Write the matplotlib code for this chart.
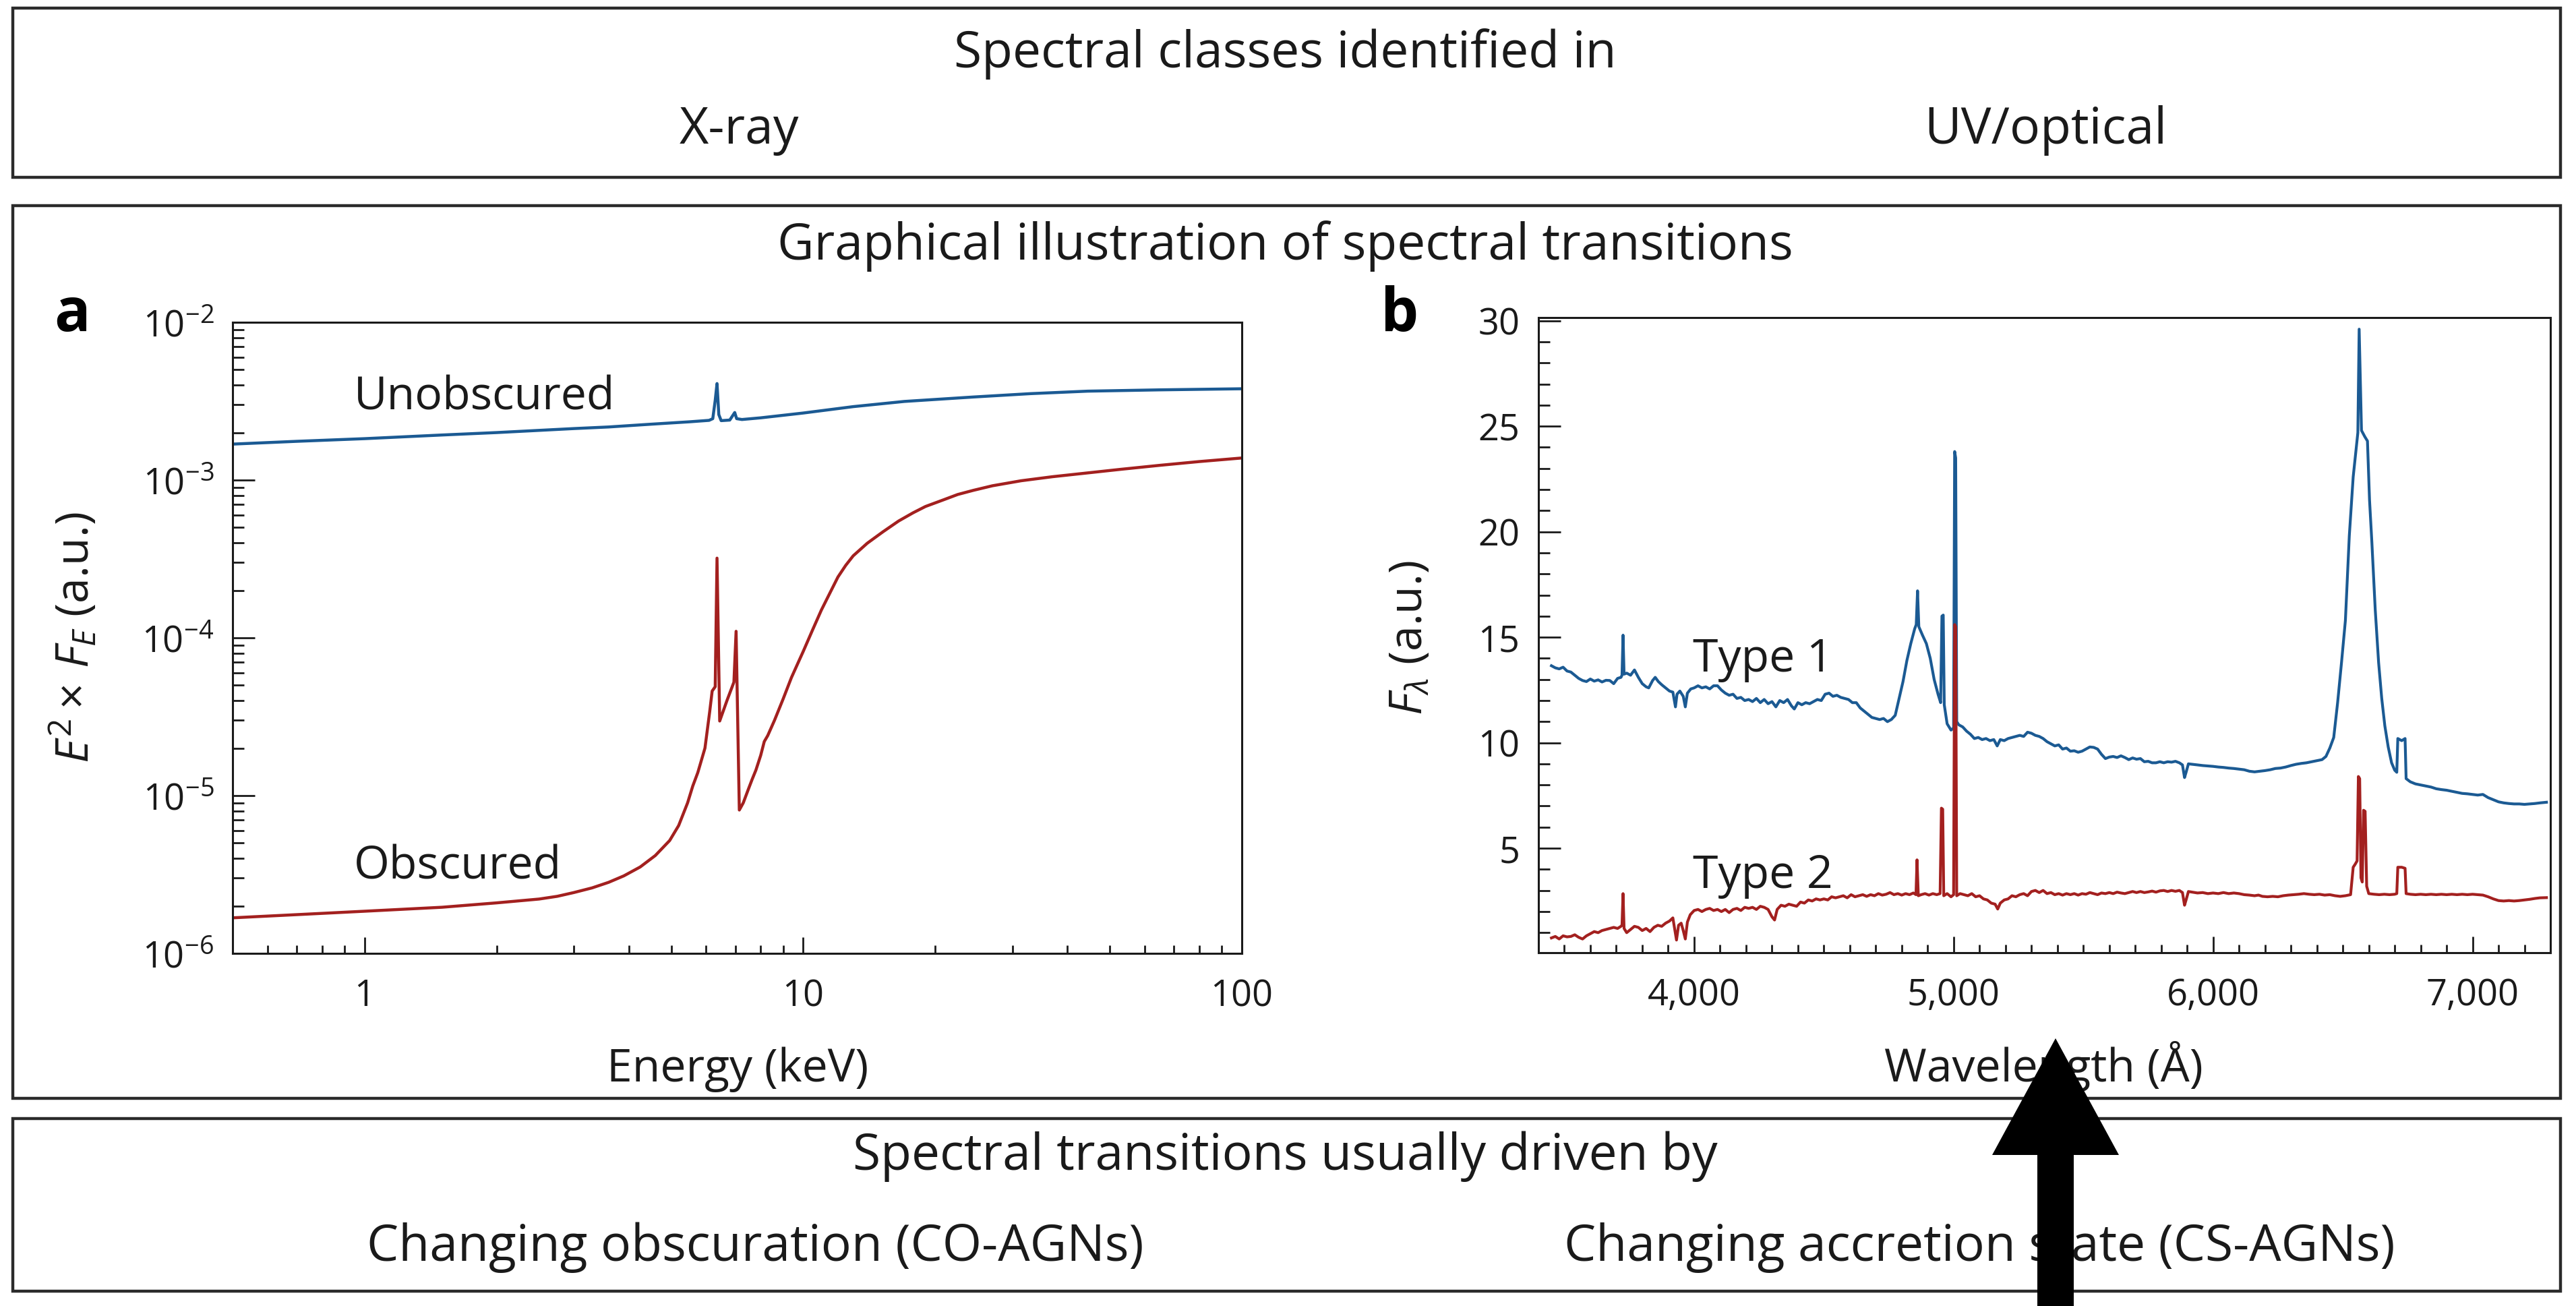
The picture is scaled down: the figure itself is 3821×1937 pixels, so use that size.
import matplotlib
matplotlib.use("Agg")
import matplotlib.pyplot as plt
import numpy as np
from matplotlib.patches import Rectangle, Polygon
from matplotlib.ticker import FuncFormatter, MultipleLocator, NullFormatter, LogLocator

W, H = 3821, 1937
DPI = 200

BLUE = "#1b5a93"
RED = "#a3201f"
INK = "#1a1a1a"
FRAME = "#2b2b2b"

plt.rcParams["font.family"] = ["Open Sans", "DejaVu Sans"]
plt.rcParams["mathtext.fontset"] = "custom"
plt.rcParams["mathtext.rm"] = "Open Sans"
plt.rcParams["mathtext.it"] = "Open Sans:italic"
plt.rcParams["mathtext.bf"] = "Open Sans:bold"

# panel a: X-ray model spectra, energy (keV) vs E^2 F_E
unobscured_energy = [0.5, 0.7, 1.0, 1.5, 2.0, 3.0, 3.6, 4.5, 5.5, 6.1, 6.22, 6.3, 6.36,
                     6.42, 6.5, 6.8, 6.93, 6.98, 7.05, 7.25, 8.0, 10.0, 13.0, 17.0,
                     24.4, 33.0, 44.5, 65.0, 100.0]
unobscured_flux = [1.69e-3, 1.76e-3, 1.83e-3, 1.93e-3, 2.0e-3, 2.12e-3, 2.17e-3, 2.26e-3,
                   2.34e-3, 2.39e-3, 2.45e-3, 3.2e-3, 4.09e-3, 2.6e-3, 2.38e-3, 2.4e-3,
                   2.6e-3, 2.68e-3, 2.45e-3, 2.42e-3, 2.48e-3, 2.66e-3, 2.92e-3, 3.15e-3,
                   3.36e-3, 3.53e-3, 3.66e-3, 3.73e-3, 3.79e-3]

obscured_energy = [0.5, 0.7, 1.0, 1.5, 2.0, 2.5, 2.75, 3.0, 3.3, 3.6, 3.9, 4.25, 4.6,
                   4.96, 5.2, 5.45, 5.6, 5.75, 5.97, 6.12, 6.2, 6.3, 6.36, 6.45, 6.7,
                   6.95, 7.03, 7.15, 7.3, 7.5, 7.65, 7.8, 8.0, 8.15, 8.3, 8.6, 9.0, 9.4,
                   9.7, 10.0, 10.5, 11.0, 11.5, 12.0, 12.5, 13.0, 14.0, 15.2, 16.5, 17.8,
                   19.0, 20.9, 22.5, 24.4, 27.0, 31.4, 37.0, 44.5, 53.0, 65.0, 80.0, 100.0]
obscured_flux = [1.68e-6, 1.76e-6, 1.85e-6, 1.96e-6, 2.09e-6, 2.21e-6, 2.30e-6, 2.43e-6,
                 2.60e-6, 2.82e-6, 3.10e-6, 3.53e-6, 4.17e-6, 5.19e-6, 6.46e-6, 9.0e-6,
                 1.15e-5, 1.4e-5, 2.0e-5, 3.4e-5, 4.6e-5, 4.9e-5, 3.2e-4, 2.97e-5,
                 4.0e-5, 5.24e-5, 1.1e-4, 8.1e-6, 9.0e-6, 1.1e-5, 1.27e-5, 1.45e-5,
                 1.8e-5, 2.2e-5, 2.4e-5, 3.0e-5, 4.1e-5, 5.6e-5, 6.8e-5, 8.2e-5, 1.12e-4,
                 1.5e-4, 1.92e-4, 2.43e-4, 2.88e-4, 3.31e-4, 3.98e-4, 4.7e-4, 5.5e-4,
                 6.2e-4, 6.8e-4, 7.5e-4, 8.1e-4, 8.6e-4, 9.2e-4, 9.9e-4, 1.05e-3,
                 1.11e-3, 1.17e-3, 1.24e-3, 1.31e-3, 1.38e-3]

# panel b: optical spectra, (wavelength in Angstrom, F_lambda)
TYPE1 = [
    (3450, 13.65), (3465, 13.55), (3480, 13.5), (3495, 13.58), (3510, 13.4), (3525, 13.35),
    (3540, 13.2), (3555, 13.05), (3570, 12.95), (3585, 12.9), (3600, 13.02), (3615, 12.92),
    (3630, 12.98), (3645, 12.88), (3660, 12.96), (3675, 12.95), (3690, 12.8), (3705, 13.05),
    (3718, 13.1), (3722, 13.2), (3726, 15.1), (3730, 13.25), (3740, 13.3), (3755, 13.2),
    (3770, 13.45), (3785, 13.1), (3800, 12.8), (3815, 12.65), (3825, 12.6), (3840, 12.95),
    (3850, 13.1), (3862, 12.9), (3875, 12.75), (3890, 12.6), (3905, 12.45), (3918, 12.4),
    (3928, 11.7), (3934, 12.3), (3945, 12.45), (3958, 12.2), (3966, 11.7), (3974, 12.35),
    (3987, 12.55), (4000, 12.6), (4015, 12.7), (4030, 12.6), (4045, 12.65), (4060, 12.55),
    (4075, 12.7), (4090, 12.7), (4105, 12.5), (4120, 12.35), (4135, 12.25), (4150, 12.3),
    (4165, 12.1), (4180, 12.15), (4195, 12.0), (4210, 12.05), (4225, 11.95), (4240, 12.1),
    (4255, 11.9), (4270, 12.05), (4285, 11.85), (4300, 11.95), (4315, 11.7), (4330, 12.0),
    (4345, 11.9), (4360, 12.05), (4375, 11.75), (4386, 11.6), (4400, 11.9), (4415, 11.8),
    (4430, 11.9), (4445, 11.85), (4460, 11.95), (4475, 12.05), (4490, 12.0), (4505, 12.3),
    (4520, 12.35), (4535, 12.2), (4550, 12.25), (4565, 12.15), (4580, 12.1), (4595, 12.05),
    (4610, 11.9), (4625, 11.9), (4640, 11.65), (4655, 11.5), (4670, 11.35), (4685, 11.2),
    (4700, 11.15), (4715, 11.1), (4730, 11.15), (4745, 11.0), (4760, 11.1), (4775, 11.3),
    (4790, 12.1), (4805, 12.9), (4820, 13.9), (4835, 14.7), (4850, 15.4), (4856, 15.6),
    (4861, 17.2), (4866, 15.5), (4880, 15.1), (4895, 14.7), (4910, 14.0), (4925, 13.0),
    (4940, 12.3), (4950, 11.9), (4955, 16.0), (4960, 16.05), (4964, 11.8), (4975, 10.9),
    (4990, 10.6), (5000, 10.7), (5004, 23.8), (5008, 23.5), (5012, 11.0), (5020, 10.85),
    (5035, 10.75), (5050, 10.55), (5065, 10.4), (5080, 10.2), (5095, 10.25), (5110, 10.15),
    (5125, 10.2), (5140, 10.1), (5155, 10.15), (5168, 9.85), (5180, 10.15), (5195, 10.1),
    (5210, 10.2), (5225, 10.25), (5240, 10.3), (5255, 10.35), (5270, 10.3), (5285, 10.5),
    (5300, 10.45), (5315, 10.35), (5330, 10.3), (5345, 10.2), (5360, 10.05), (5375, 9.95),
    (5390, 9.85), (5405, 9.9), (5420, 9.7), (5435, 9.75), (5450, 9.6), (5465, 9.62),
    (5480, 9.55), (5495, 9.6), (5510, 9.7), (5525, 9.8), (5540, 9.78), (5555, 9.7),
    (5570, 9.45), (5585, 9.25), (5600, 9.32), (5615, 9.35), (5630, 9.3), (5645, 9.38),
    (5660, 9.3), (5675, 9.2), (5690, 9.28), (5705, 9.22), (5720, 9.25), (5735, 9.1),
    (5750, 9.12), (5765, 9.05), (5780, 9.05), (5795, 9.1), (5810, 9.05), (5825, 9.1),
    (5840, 9.08), (5855, 9.12), (5870, 9.05), (5882, 8.95), (5890, 8.35), (5896, 8.6),
    (5905, 9.0), (5920, 8.98), (5940, 8.95), (5960, 8.92), (5980, 8.9), (6000, 8.88),
    (6020, 8.85), (6040, 8.83), (6060, 8.8), (6080, 8.78), (6100, 8.75), (6120, 8.72),
    (6140, 8.65), (6160, 8.62), (6180, 8.65), (6200, 8.68), (6220, 8.72), (6240, 8.78),
    (6260, 8.8), (6280, 8.85), (6300, 8.92), (6320, 8.98), (6340, 9.02), (6360, 9.05),
    (6380, 9.1), (6400, 9.15), (6420, 9.2), (6435, 9.35), (6450, 9.75), (6465, 10.25),
    (6480, 11.9), (6495, 13.8), (6510, 15.8), (6525, 19.8), (6540, 22.6), (6552, 24.0),
    (6558, 24.7), (6563, 29.6), (6568, 27.0), (6572, 24.8), (6585, 24.5), (6595, 24.3),
    (6603, 21.5), (6612, 19.5), (6625, 16.3), (6638, 13.8), (6650, 12.1), (6662, 10.8),
    (6675, 9.8), (6688, 9.05), (6700, 8.7), (6708, 8.6), (6712, 10.2), (6727, 10.1),
    (6740, 10.2), (6744, 8.3), (6760, 8.15), (6780, 8.05), (6800, 8.0), (6820, 7.95),
    (6840, 7.9), (6860, 7.82), (6880, 7.78), (6900, 7.75), (6920, 7.7), (6940, 7.65),
    (6960, 7.6), (6980, 7.58), (7000, 7.55), (7020, 7.52), (7040, 7.55), (7060, 7.4),
    (7080, 7.3), (7100, 7.2), (7120, 7.15), (7140, 7.12), (7160, 7.1), (7180, 7.1),
    (7200, 7.08), (7220, 7.1), (7240, 7.12), (7260, 7.15), (7285, 7.18),
]

TYPE2 = [
    (3450, 0.75), (3465, 0.82), (3480, 0.7), (3495, 0.85), (3510, 0.8), (3525, 0.82),
    (3540, 0.9), (3555, 0.78), (3570, 0.7), (3585, 0.85), (3600, 0.95), (3615, 1.05),
    (3630, 1.0), (3645, 1.1), (3660, 1.15), (3675, 1.2), (3690, 1.25), (3705, 1.2),
    (3718, 1.3), (3722, 1.35), (3726, 2.85), (3730, 1.2), (3740, 1.0), (3755, 1.15),
    (3770, 1.3), (3785, 1.25), (3800, 1.1), (3815, 1.2), (3830, 1.05), (3845, 1.25),
    (3860, 1.35), (3875, 1.3), (3890, 1.45), (3905, 1.55), (3918, 1.7), (3926, 1.1),
    (3932, 0.65), (3940, 1.35), (3950, 1.45), (3958, 1.1), (3966, 0.7), (3974, 1.5),
    (3985, 1.85), (4000, 2.05), (4015, 2.1), (4030, 2.0), (4045, 2.1), (4060, 2.15),
    (4075, 2.05), (4090, 2.1), (4105, 2.0), (4120, 2.1), (4135, 1.95), (4150, 2.1),
    (4165, 2.15), (4180, 2.05), (4195, 2.2), (4210, 2.15), (4225, 2.2), (4240, 2.1),
    (4255, 2.25), (4270, 2.2), (4285, 2.1), (4300, 1.75), (4310, 1.6), (4320, 2.1),
    (4335, 2.3), (4350, 2.25), (4365, 2.35), (4380, 2.3), (4395, 2.25), (4410, 2.45),
    (4425, 2.4), (4440, 2.55), (4455, 2.5), (4470, 2.6), (4485, 2.55), (4500, 2.6),
    (4515, 2.55), (4530, 2.7), (4545, 2.65), (4560, 2.7), (4575, 2.75), (4590, 2.65),
    (4605, 2.8), (4620, 2.7), (4635, 2.75), (4650, 2.8), (4665, 2.72), (4680, 2.8),
    (4695, 2.75), (4710, 2.85), (4725, 2.78), (4740, 2.82), (4755, 2.9), (4770, 2.8),
    (4785, 2.85), (4800, 2.78), (4815, 2.85), (4830, 2.8), (4845, 2.88), (4855, 2.8),
    (4859, 4.45), (4864, 2.75), (4875, 2.8), (4890, 2.85), (4905, 2.78), (4920, 2.85),
    (4935, 2.8), (4948, 2.85), (4953, 6.9), (4958, 6.85), (4962, 2.75), (4975, 2.85),
    (4990, 2.7), (5000, 2.8), (5004, 15.6), (5008, 15.5), (5012, 2.75), (5025, 2.85),
    (5040, 2.8), (5055, 2.75), (5070, 2.85), (5085, 2.7), (5100, 2.75), (5115, 2.6),
    (5130, 2.55), (5145, 2.4), (5160, 2.35), (5170, 2.12), (5180, 2.4), (5195, 2.55),
    (5210, 2.6), (5225, 2.75), (5240, 2.7), (5255, 2.8), (5270, 2.85), (5285, 2.75),
    (5300, 2.95), (5315, 3.0), (5330, 2.9), (5345, 3.0), (5360, 2.85), (5375, 2.9),
    (5390, 2.8), (5405, 2.85), (5420, 2.78), (5435, 2.85), (5450, 2.8), (5465, 2.85),
    (5480, 2.78), (5495, 2.85), (5510, 2.82), (5525, 2.9), (5540, 2.85), (5555, 2.8),
    (5570, 2.88), (5585, 2.85), (5600, 2.9), (5615, 2.85), (5630, 2.92), (5645, 2.88),
    (5660, 2.85), (5675, 2.9), (5690, 2.95), (5705, 2.9), (5720, 2.95), (5735, 2.9),
    (5750, 2.93), (5765, 2.97), (5780, 2.92), (5795, 2.98), (5810, 3.0), (5825, 2.95),
    (5840, 3.0), (5855, 2.96), (5870, 3.0), (5882, 2.9), (5890, 2.3), (5896, 2.55),
    (5905, 2.95), (5920, 2.92), (5940, 2.88), (5960, 2.9), (5980, 2.85), (6000, 2.88),
    (6020, 2.85), (6040, 2.9), (6060, 2.85), (6080, 2.88), (6100, 2.85), (6120, 2.8),
    (6140, 2.78), (6160, 2.75), (6175, 2.78), (6190, 2.72), (6210, 2.7), (6230, 2.72),
    (6250, 2.7), (6270, 2.75), (6290, 2.78), (6310, 2.8), (6330, 2.82), (6350, 2.85),
    (6370, 2.82), (6390, 2.8), (6410, 2.82), (6430, 2.78), (6450, 2.8), (6470, 2.75),
    (6490, 2.72), (6510, 2.75), (6530, 2.8), (6540, 4.1), (6548, 4.25), (6555, 4.4),
    (6560, 8.4), (6565, 8.3), (6570, 3.6), (6575, 3.4), (6580, 6.8), (6586, 6.75),
    (6592, 3.2), (6600, 2.85), (6620, 2.82), (6640, 2.8), (6660, 2.82), (6680, 2.8),
    (6700, 2.82), (6708, 2.85), (6712, 4.1), (6727, 4.1), (6740, 4.05), (6744, 2.85),
    (6760, 2.82), (6780, 2.8), (6800, 2.82), (6820, 2.8), (6840, 2.82), (6860, 2.8),
    (6880, 2.82), (6900, 2.8), (6920, 2.82), (6940, 2.8), (6960, 2.82), (6980, 2.8),
    (7000, 2.82), (7020, 2.8), (7040, 2.78), (7060, 2.7), (7080, 2.6), (7100, 2.52),
    (7120, 2.5), (7140, 2.52), (7160, 2.5), (7180, 2.52), (7200, 2.55), (7220, 2.58),
    (7240, 2.62), (7260, 2.65), (7285, 2.66),
]

type1_wave, type1_flux = np.array(TYPE1).T
type2_wave, type2_flux = np.array(TYPE2).T


def fx(x):
    return x / W


def fy(y):
    return 1 - y / H


def style_ticks(ax):
    ax.tick_params(which="both", direction="in", top=False, right=False,
                   width=1.0, color=INK, labelsize=19.5, labelcolor=INK)
    ax.tick_params(axis="y", which="major", length=12, pad=10)
    ax.tick_params(axis="y", which="minor", length=6)
    ax.tick_params(axis="x", which="major", length=8.5, pad=13)
    ax.tick_params(axis="x", which="minor", length=4.5)
    for spine in ax.spines.values():
        spine.set_linewidth(1.1)
        spine.set_color(INK)


fig = plt.figure(figsize=(W / DPI, H / DPI), dpi=DPI)

# frames
for top, bottom in [(12, 263), (305, 1629), (1659, 1915)]:
    fig.add_artist(Rectangle((fx(19), fy(bottom)), fx(3798) - fx(19), fy(top) - fy(bottom),
                             transform=fig.transFigure, fill=False, lw=1.6, ec=FRAME))

# panel a
ax_a = fig.add_axes([fx(345), fy(1414), fx(1842) - fx(345), fy(478) - fy(1414)])
ax_a.plot(unobscured_energy, unobscured_flux, color=BLUE, lw=1.6)
ax_a.plot(obscured_energy, obscured_flux, color=RED, lw=1.6)
ax_a.set_xscale("log")
ax_a.set_yscale("log")
ax_a.set_xlim(0.5, 100)
ax_a.set_ylim(1e-6, 1e-2)
ax_a.xaxis.set_major_formatter(FuncFormatter(lambda v, _: f"{v:g}"))
ax_a.xaxis.set_minor_formatter(NullFormatter())
ax_a.yaxis.set_major_locator(LogLocator(base=10, numticks=10))
ax_a.yaxis.set_minor_locator(LogLocator(base=10, subs=np.arange(2, 10), numticks=10))
ax_a.yaxis.set_minor_formatter(NullFormatter())
style_ticks(ax_a)
ax_a.text(0.946, 2.81e-3, "Unobscured", fontsize=24.5, color=INK, va="baseline")
ax_a.text(0.946, 2.96e-6, "Obscured", fontsize=24.5, color=INK, va="baseline")

# panel b
ax_b = fig.add_axes([fx(2282), fy(1413), fx(3783) - fx(2282), fy(471) - fy(1413)])
ax_b.plot(type1_wave, type1_flux, color=BLUE, lw=1.5)
ax_b.plot(type2_wave, type2_flux, color=RED, lw=1.5)
ax_b.set_xlim(3400, 7300)
ax_b.set_ylim(0.05, 30.15)
ax_b.xaxis.set_major_locator(MultipleLocator(1000))
ax_b.xaxis.set_minor_locator(MultipleLocator(100))
ax_b.xaxis.set_major_formatter(FuncFormatter(lambda v, _: f"{v:,.0f}"))
ax_b.yaxis.set_major_locator(MultipleLocator(5))
ax_b.yaxis.set_minor_locator(MultipleLocator(1))
ax_b.yaxis.set_major_formatter(FuncFormatter(lambda v, _: f"{v:.0f}" if v > 0 else ""))
style_ticks(ax_b)
ax_b.text(3995, 13.39, "Type 1", fontsize=24.5, color=INK, va="baseline")
ax_b.text(3995, 3.13, "Type 2", fontsize=24.5, color=INK, va="baseline")

# headings and axis titles
box_text = dict(fontsize=27, color=INK, ha="center", va="baseline")
fig.text(fx(1906), fy(100), "Spectral classes identified in", **box_text)
fig.text(fx(1097), fy(213), "X-ray", **box_text)
fig.text(fx(3034), fy(213), "UV/optical", **box_text)
fig.text(fx(1906), fy(385), "Graphical illustration of spectral transitions", **box_text)
fig.text(fx(1906), fy(1735), "Spectral transitions usually driven by", **box_text)
fig.text(fx(1120), fy(1870), "Changing obscuration (CO-AGNs)", **box_text)
fig.text(fx(2936), fy(1870), "Changing accretion state (CS-AGNs)", **box_text)

label_text = dict(fontsize=24.5, color=INK, ha="center", va="baseline")
fig.text(fx(1094), fy(1604), "Energy (keV)", **label_text)
fig.text(fx(3031), fy(1604), "Wavelength (Å)", **label_text)
fig.text(fx(110), fy(946), r"$E^2\times\,F_E$ (a.u.)", fontsize=24.5, color=INK,
         rotation=90, ha="center", va="center")
fig.text(fx(2091), fy(946), r"$F_\lambda$ (a.u.)", fontsize=24.5, color=INK,
         rotation=90, ha="center", va="center")

fig.text(fx(107), fy(468), "a", fontsize=32, fontweight="bold", color="black",
         ha="center", va="center")
fig.text(fx(2076), fy(468), "b", fontsize=32, fontweight="bold", color="black",
         ha="center", va="center")

# upward arrow
arrow_px = [(3049, 1540), (3143, 1713), (3076, 1713), (3076, 1945),
            (3022, 1945), (3022, 1713), (2955, 1713)]
fig.add_artist(Polygon([(fx(x), fy(y)) for x, y in arrow_px], closed=True,
                       transform=fig.transFigure, fc="black", ec="none", zorder=10))

fig.savefig("out.png", dpi=DPI)
